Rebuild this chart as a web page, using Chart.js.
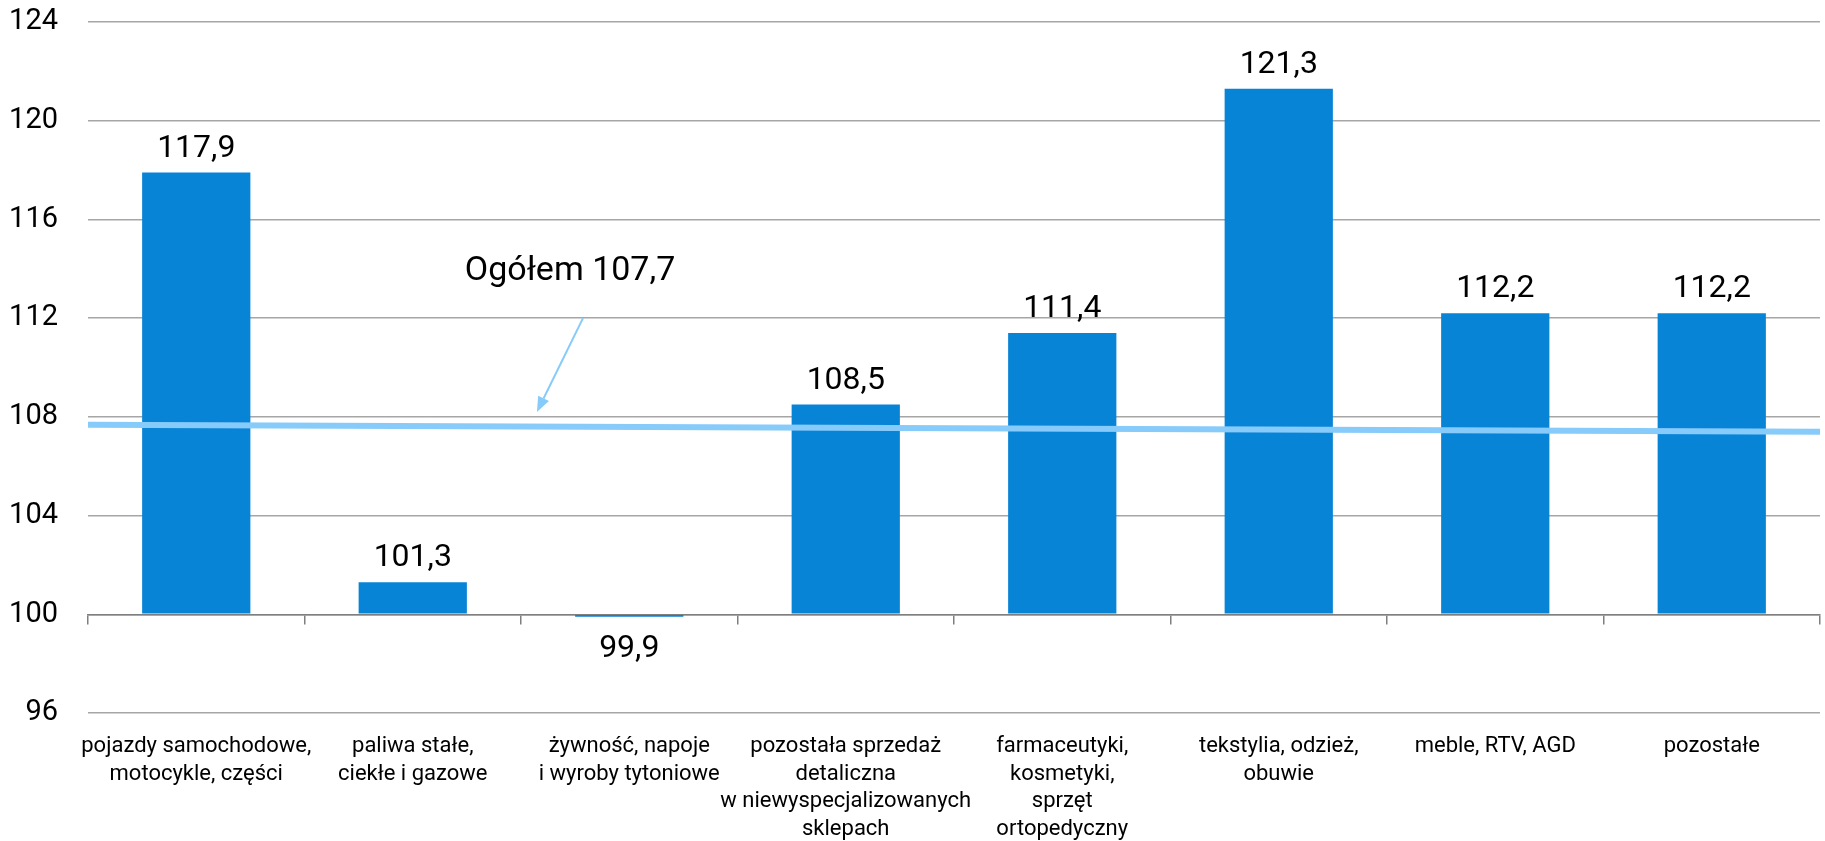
<!DOCTYPE html>
<html>
<head>
<meta charset="utf-8">
<script src="https://cdn.jsdelivr.net/npm/chart.js@4.4.1/dist/chart.umd.min.js"></script>
<style>
  html, body { margin: 0; padding: 0; background: #ffffff; }
  #wrap { width: 1825px; height: 841px; position: relative; }
</style>
</head>
<body>
<div id="wrap"><canvas id="c" width="1825" height="841"></canvas></div>
<script>
const categories = [
  ['pojazdy samochodowe,', 'motocykle, części'],
  ['paliwa stałe,', 'ciekłe i gazowe'],
  ['żywność, napoje', 'i wyroby tytoniowe'],
  ['pozostała sprzedaż', 'detaliczna', 'w niewyspecjalizowanych', 'sklepach'],
  ['farmaceutyki,', 'kosmetyki,', 'sprzęt', 'ortopedyczny'],
  ['tekstylia, odzież,', 'obuwie'],
  ['meble, RTV, AGD'],
  ['pozostałe']
];
const values = [117.9, 101.3, 99.9, 108.5, 111.4, 121.3, 112.2, 112.2];
const totalLineX = [0, 1];
const totalLineY = [107.68, 107.40];
const totalLabel = 'Ogółem 107,7';
const yTicks = [96, 100, 104, 108, 112, 116, 120, 124];

const FONT = "Roboto, 'Noto Sans', sans-serif";
const BAR_COLOR = '#0884d6';
const LINE_COLOR = '#87cbfa';

const valueLabels = {
  id: 'valueLabels',
  afterDatasetsDraw(chart) {
    const ctx = chart.ctx;
    const meta = chart.getDatasetMeta(0);
    const ys = chart.scales.y;
    ctx.save();
    ctx.font = '32px ' + FONT;
    ctx.fillStyle = '#000';
    ctx.textAlign = 'center';
    ctx.textBaseline = 'alphabetic';
    meta.data.forEach((bar, i) => {
      const v = values[i];
      const txt = v.toFixed(1).replace('.', ',');
      if (v >= 100) {
        ctx.fillText(txt, bar.x, ys.getPixelForValue(v) - 16);
      } else {
        ctx.fillText(txt, bar.x, ys.getPixelForValue(v) + 40);
      }
    });
    ctx.restore();
  }
};

const annotation = {
  id: 'annotation',
  afterDatasetsDraw(chart) {
    const ctx = chart.ctx;
    const xs = chart.scales.xl;
    const ys = chart.scales.y;
    const x1 = xs.getPixelForValue(0.2858), y1 = ys.getPixelForValue(112.0);
    const x2 = xs.getPixelForValue(0.2592), y2 = ys.getPixelForValue(108.2);
    ctx.save();
    ctx.strokeStyle = LINE_COLOR;
    ctx.fillStyle = LINE_COLOR;
    ctx.lineWidth = 2;
    const ang = Math.atan2(y2 - y1, x2 - x1);
    const hl = 15, hw = 6;
    const bx = x2 - hl * Math.cos(ang), by = y2 - hl * Math.sin(ang);
    ctx.beginPath();
    ctx.moveTo(x1, y1);
    ctx.lineTo(bx, by);
    ctx.stroke();
    ctx.beginPath();
    ctx.moveTo(x2, y2);
    ctx.lineTo(bx + hw * Math.sin(ang), by - hw * Math.cos(ang));
    ctx.lineTo(bx - hw * Math.sin(ang), by + hw * Math.cos(ang));
    ctx.closePath();
    ctx.fill();
    ctx.font = '34px ' + FONT;
    ctx.fillStyle = '#000';
    ctx.textAlign = 'center';
    ctx.textBaseline = 'middle';
    ctx.fillText(totalLabel, xs.getPixelForValue(0.2783), ys.getPixelForValue(113.87));
    ctx.restore();
  }
};

new Chart(document.getElementById('c'), {
  type: 'bar',
  data: {
    labels: categories,
    datasets: [
      {
        type: 'bar',
        data: values,
        base: 100,
        grouped: false,
        backgroundColor: BAR_COLOR,
        borderWidth: 0,
        barPercentage: 0.5,
        categoryPercentage: 1.0,
        xAxisID: 'x',
        yAxisID: 'y',
        order: 2
      },
      {
        type: 'line',
        data: totalLineX.map((x, i) => ({ x: x, y: totalLineY[i] })),
        borderColor: LINE_COLOR,
        borderWidth: 6,
        pointRadius: 0,
        fill: false,
        tension: 0,
        xAxisID: 'xl',
        yAxisID: 'y',
        order: 1
      }
    ]
  },
  options: {
    responsive: false,
    animation: false,
    devicePixelRatio: 1,
    layout: { padding: { left: 0, right: 5, top: 22, bottom: 0 } },
    plugins: {
      legend: { display: false },
      tooltip: { enabled: false },
      title: { display: false }
    },
    scales: {
      x: {
        type: 'category',
        position: 'bottom',
        offset: true,
        grid: { display: false },
        border: { display: false },
        afterFit(scale) { scale.height = 128; scale.paddingTop = 0; scale.paddingBottom = 0; },
        ticks: {
          color: '#000',
          font: { family: FONT, size: 22, lineHeight: 1.25 },
          maxRotation: 0,
          minRotation: 0,
          autoSkip: false,
          padding: 12
        }
      },
      x2: {
        type: 'category',
        position: { y: 100 },
        offset: true,
        afterFit(scale) { scale.paddingTop = 0; scale.paddingBottom = 0; },
        grid: { display: true, offset: true, drawOnChartArea: false, drawTicks: true, tickLength: 9, color: '#7f7f7f', lineWidth: 1.5 },
        border: { display: true, color: '#7f7f7f', width: 1.5 },
        ticks: { display: false }
      },
      xl: {
        type: 'linear',
        display: false,
        offset: false,
        min: 0,
        max: 1
      },
      y: {
        type: 'linear',
        min: 96,
        max: 124,
        afterBuildTicks(scale) { scale.ticks = yTicks.map(v => ({ value: v })); },
        afterFit(scale) { scale.width = 88; scale.paddingTop = 0; scale.paddingBottom = 0; },
        grid: { color: '#a6a6a6', lineWidth: 1.5, drawTicks: false },
        border: { display: false },
        ticks: {
          color: '#000',
          font: { family: FONT, size: 29 },
          padding: 30,
          callback: v => String(v)
        }
      }
    }
  },
  plugins: [valueLabels, annotation]
});
</script>
</body>
</html>
